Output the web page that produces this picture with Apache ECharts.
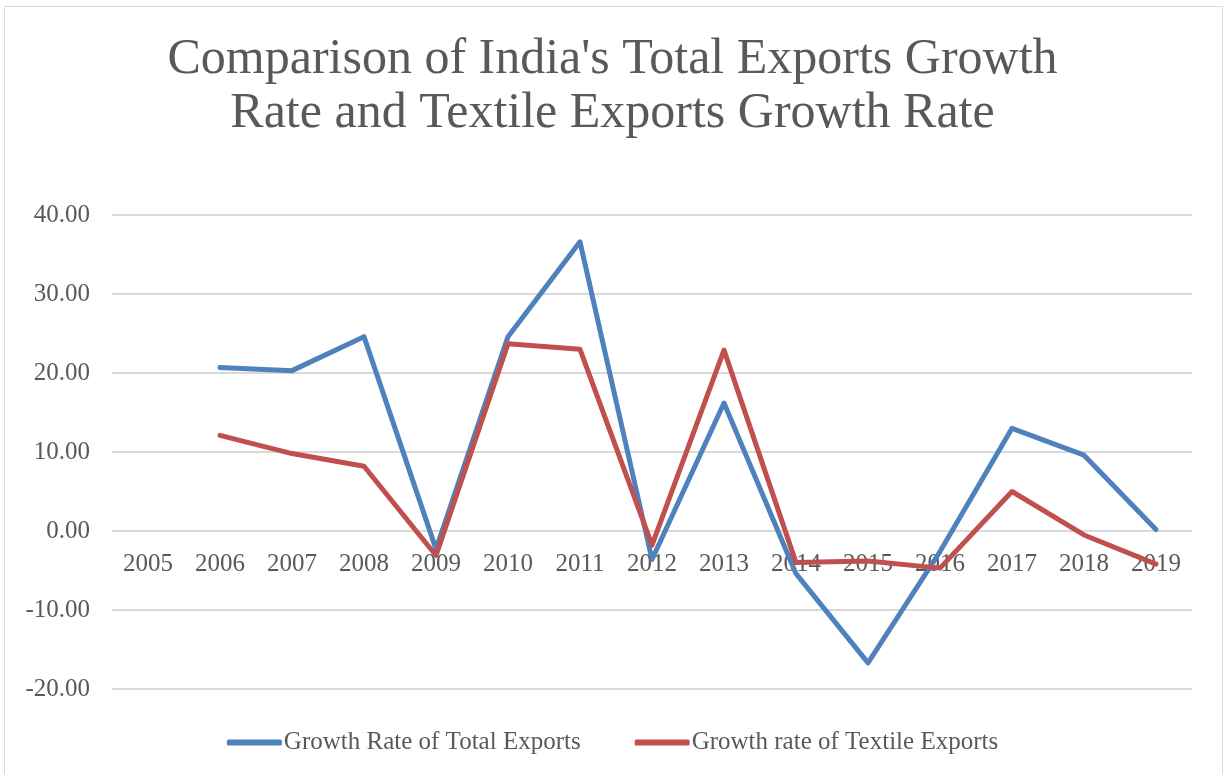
<!DOCTYPE html>
<html>
<head>
<meta charset="utf-8">
<script src="https://cdn.jsdelivr.net/npm/echarts@6/dist/echarts.min.js"></script>
<style>
  html, body { margin: 0; padding: 0; background: #fff; }
  #frame { position: absolute; left: 4px; top: 6px; width: 1219px; height: 770px; border: 1px solid #d9d9d9; box-sizing: border-box; }
  #chart { position: absolute; left: 0; top: 0; width: 1225px; height: 774px; }
</style>
</head>
<body>
<div id="frame"></div>
<div id="chart"></div>
<script>
// Years on the category axis
const years = ['2005','2006','2007','2008','2009','2010','2011','2012','2013','2014','2015','2016','2017','2018','2019'];
// Growth rate of India's total exports (%)
const totalExports = [null, 20.7, 20.3, 24.6, -2.3, 24.6, 36.6, -3.6, 16.2, -5.4, -16.7, -2.6, 13.0, 9.6, 0.2];
// Growth rate of textile exports (%)
const textileExports = [null, 12.1, 9.8, 8.2, -3.1, 23.7, 23.0, -1.8, 22.9, -4.0, -3.8, -4.7, 5.0, -0.5, -4.2];

const seriesNames = ['Growth Rate of Total Exports', 'Growth rate of Textile Exports'];
const fontFam = '"Liberation Serif", "DejaVu Serif", serif';
const textColor = '#595959';

const yMin = -20, yMax = 40;
// category labels sit on the zero line, as the grid spans yMin..yMax
const gridTop = 215, gridBottom = 85, plotH = 774 - gridTop - gridBottom;
const zeroShift = plotH * (0 - yMin) / (yMax - yMin);

const chart = echarts.init(document.getElementById('chart'));
chart.setOption({
  backgroundColor: 'transparent',
  animation: false,
  title: {
    text: "Comparison of India's Total Exports Growth\nRate and Textile Exports Growth Rate",
    left: 'center',
    top: 28,
    textStyle: { fontFamily: fontFam, fontSize: 50, fontWeight: 'normal', color: textColor, lineHeight: 54 }
  },
  legend: {
    top: 725,
    left: 'center',
    itemWidth: 55,
    itemHeight: 6,
    itemGap: 54,
    icon: 'roundRect',
    textStyle: { fontFamily: fontFam, fontSize: 25, color: textColor, padding: [0, 0, 0, -3] },
    data: seriesNames
  },
  grid: { left: 112, right: 33, top: gridTop, bottom: gridBottom, containLabel: false },
  xAxis: {
    type: 'category',
    data: years,
    boundaryGap: true,
    offset: -zeroShift,
    axisLine: { show: false, onZero: false },
    axisTick: { show: false },
    axisLabel: { fontFamily: fontFam, fontSize: 25, color: textColor, margin: 21 }
  },
  yAxis: {
    type: 'value',
    min: yMin,
    max: yMax,
    interval: 10,
    axisLine: { show: false },
    axisTick: { show: false },
    splitLine: { lineStyle: { color: '#d9d9d9', width: 2 } },
    axisLabel: { fontFamily: fontFam, fontSize: 25, color: textColor, margin: 22, formatter: v => v.toFixed(2) }
  },
  series: [
    {
      name: seriesNames[0],
      type: 'line',
      data: totalExports,
      symbol: 'none',
      lineStyle: { color: '#4F81BD', width: 5, cap: 'round', join: 'round' },
      itemStyle: { color: '#4F81BD' },
      z: 2
    },
    {
      name: seriesNames[1],
      type: 'line',
      data: textileExports,
      symbol: 'none',
      lineStyle: { color: '#C0504D', width: 5, cap: 'round', join: 'round' },
      itemStyle: { color: '#C0504D' },
      z: 3
    }
  ]
});
</script>
</body>
</html>
